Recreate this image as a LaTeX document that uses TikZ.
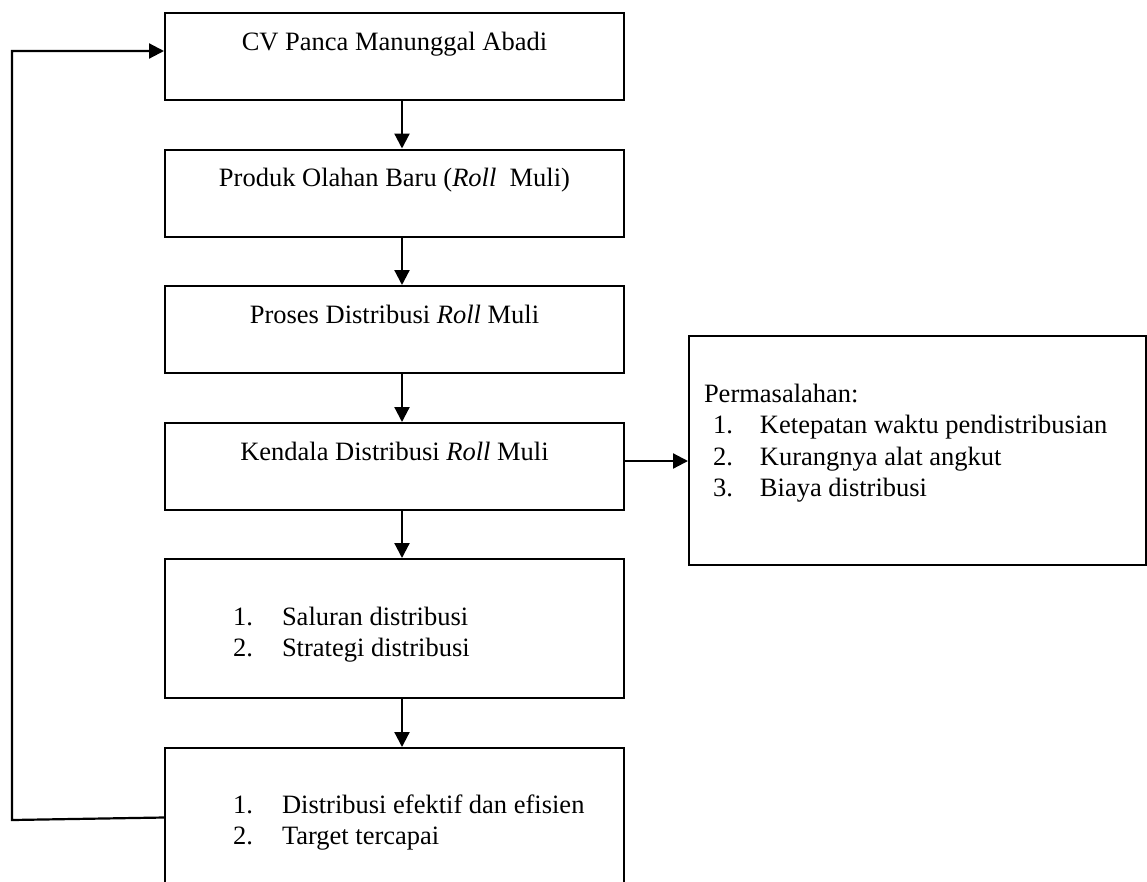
\documentclass[tikz,border=0pt]{standalone}
\usepackage{fontspec}
\setmainfont{Liberation Serif}
\usepackage{tikz}
\usetikzlibrary{arrows.meta,calc}
\tikzstyle{box}=[draw,rectangle,line width=2pt,inner sep=0pt,text height=19pt,text depth=32pt,minimum width=459pt,minimum height=87pt]
\tikzstyle{flow}=[draw,line width=2.2pt,-{Triangle[length=15pt,width=15pt]}]

\begin{document}
\begin{tikzpicture}[x=1pt,y=-1pt,font=\fontsize{26.5}{31.5}\selectfont]
      \useasboundingbox (0,0) rectangle (1147,881);
      \node[box] (cv) at (394.5,56.5) {CV Panca Manunggal Abadi};
      \node[box] (produk) at (394.5,193) {Produk Olahan Baru (\textit{Roll}~ Muli)};
      \node[box] (proses) at (394.5,329.5) {Proses Distribusi \textit{Roll} Muli};
      \node[box] (kendala) at (394.5,466.5) {Kendala Distribusi \textit{Roll} Muli};
      \node[box,minimum height=139pt,text depth=26pt] (saluran) at (394.5,628.5)
        {\begin{tabular}[t]{@{\hspace{68pt}}p{49pt}@{}p{342pt}@{}}1. & Saluran distribusi\\2. & Strategi distribusi\end{tabular}};
      \node[box,minimum height=139pt,text depth=28pt] (hasil) at (394.5,817.5)
        {\begin{tabular}[t]{@{\hspace{68pt}}p{49pt}@{}p{342pt}@{}}1. & Distribusi efektif dan efisien\\2. & Target tercapai\end{tabular}};
      \node[box,minimum width=457pt,minimum height=229pt,text depth=116pt] (masalah) at (917.5,450.5)
        {\begin{tabular}[t]{@{}p{9pt}@{}p{47pt}@{}p{371pt}@{}}\multicolumn{3}{@{}l@{}}{Permasalahan:}\\
         & 1. & Ketepatan waktu pendistribusian\\ & 2. & Kurangnya alat angkut\\ & 3. & Biaya distribusi\end{tabular}};
      % alur utama
      \draw[flow] ([xshift=7.5pt]cv.south) to ([xshift=7.5pt]produk.north);
      \draw[flow] ([xshift=7.5pt]produk.south) to ([xshift=7.5pt]proses.north);
      \draw[flow] ([xshift=7.5pt]proses.south) to ([xshift=7.5pt]kendala.north);
      \draw[flow] ([xshift=7.5pt]kendala.south) to ([xshift=7.5pt]saluran.north);
      \draw[flow] ([xshift=7.5pt]saluran.south) to ([xshift=7.5pt]hasil.north);
      \coordinate (k1) at ([yshift=5.5pt]kendala.east);
      \draw[flow] (k1) to (k1 -| masalah.west);
      % umpan balik
      \coordinate (lp1) at (12,820);
      \coordinate (lp2) at (12,51);
      \draw[flow] (hasil.west) -- (lp1) -- (lp2) -- (lp2 -| cv.west);
\end{tikzpicture}
\end{document}
